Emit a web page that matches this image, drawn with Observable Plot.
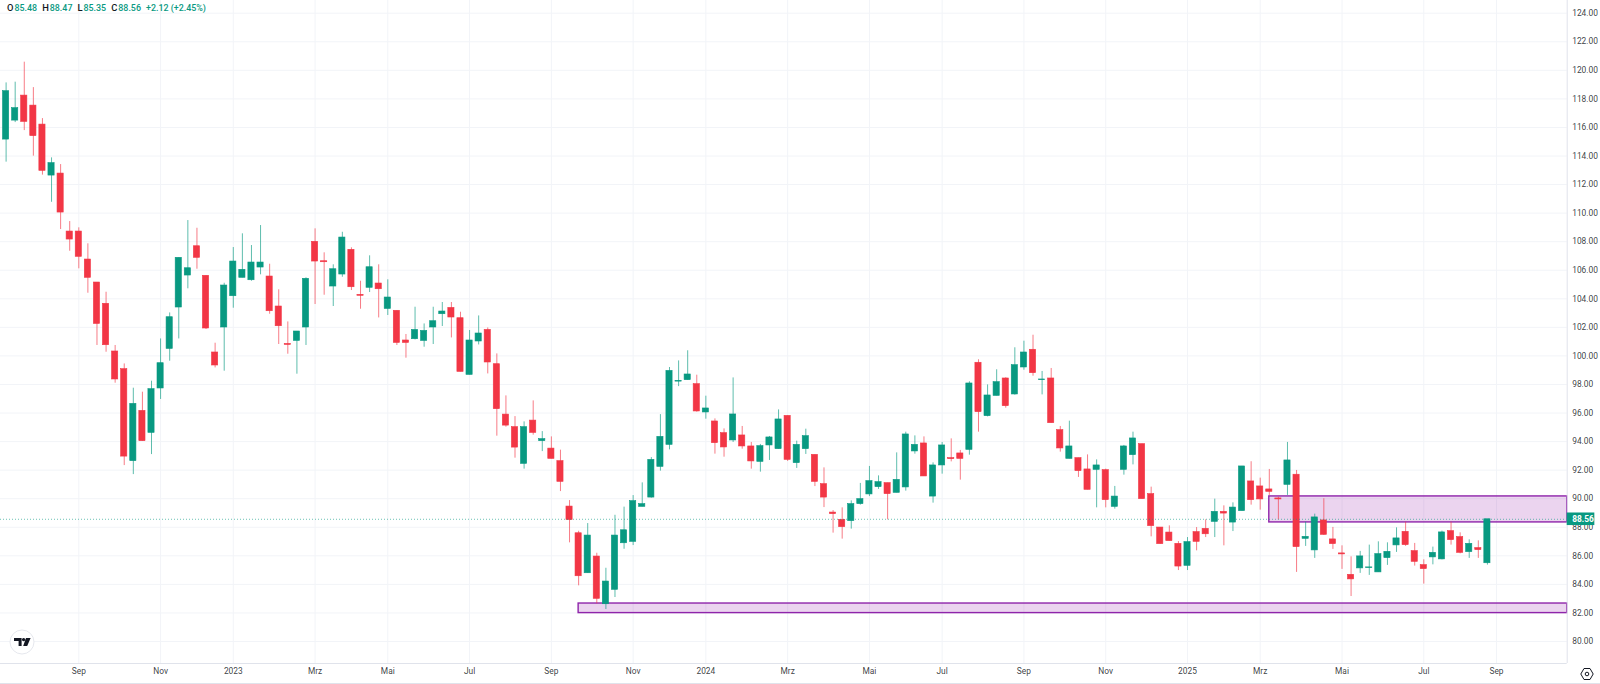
<!DOCTYPE html>
<html><head><meta charset="utf-8">
<script src="https://cdn.jsdelivr.net/npm/d3@7"></script>
<script src="https://cdn.jsdelivr.net/npm/@observablehq/plot@0.6"></script>
<style>
html,body{margin:0;padding:0;background:#fff;overflow:hidden}
#wrap{position:relative;width:1600px;height:684px;font-family:Roboto,sans-serif}
#legend{position:absolute;left:7px;top:2px;font-size:8.9px;line-height:12px;font-weight:500;color:#089981;white-space:pre}
#legend b{font-weight:500;color:#131722;font-size:9.4px;margin-right:1px}
#legend span{margin-right:5px}
#logo{position:absolute;left:9px;top:629px}
#gear{position:absolute;left:1580px;top:667px}
#foot{position:absolute;left:0;top:683px;width:1600px;height:1px;background:#e0e3eb}
svg{display:block}
</style></head><body>
<div id="wrap">
<div id="chart"></div>
<div id="legend"><span><b>O</b>85.48</span><span><b>H</b>88.47</span><span><b>L</b>85.35</span><span><b>C</b>88.56</span><span>+2.12 (+2.45%)</span></div>
<svg id="logo" width="26" height="26" viewBox="0 0 26 26"><circle cx="13" cy="13" r="12" fill="#fff" stroke="#e6e8ee" stroke-width="1"/><path d="M5 9h7.6v8h-3v-4.9H5z M17 9h4.6l-3.4 8h-4z M14.6 9a1.6 1.6 0 1 0 .01 0z" fill="#131722"/></svg>
<svg id="gear" width="14" height="14" viewBox="0 0 14 14" fill="none" stroke="#131722" stroke-width="1"><path d="M4 1.5h6l3.2 5.5-3.2 5.5H4L.8 7z"/><circle cx="7" cy="7" r="1.8"/></svg>
<div id="foot"></div>
</div>
<script>
const open = [
115.15,116.48,118.23,117.53,116.20,112.63,112.77,108.71,108.71,106.75,
105.14,103.65,100.31,99.07,92.63,96.15,94.61,97.72,100.49,103.39,
105.63,107.68,105.61,100.24,101.99,104.18,105.47,105.30,106.19,105.56,
103.46,100.84,101.05,101.99,107.99,106.63,104.86,105.70,107.43,104.28,
104.77,105.07,103.29,103.16,101.08,101.17,101.05,101.99,102.92,103.36,
102.64,98.67,101.01,101.82,99.42,95.89,95.01,92.44,95.47,94.03,
93.51,92.63,89.45,87.58,84.78,85.95,82.61,83.62,86.88,86.98,
89.43,90.08,92.23,93.77,98.20,98.30,98.02,96.04,95.41,94.59,
94.08,94.43,93.66,92.58,93.73,93.47,95.80,92.49,93.47,93.07,
91.02,89.03,88.52,88.43,89.62,90.30,90.81,91.09,90.41,90.79,
93.31,93.87,90.15,92.33,92.84,93.17,93.42,99.52,95.78,97.20,
98.42,97.30,99.19,100.43,98.30,98.42,94.80,92.79,92.84,92.05,
92.02,92.00,89.43,92.02,93.05,93.82,90.32,87.98,87.63,86.84,
85.30,87.66,87.89,88.38,89.08,88.33,89.13,91.21,90.86,90.65,
90.02,90.97,91.68,87.19,86.38,88.48,87.15,86.17,84.67,85.12,
85.14,84.84,85.84,86.73,87.68,86.33,85.35,85.89,85.75,87.73,
87.31,86.26,86.54,85.48];
const close = [
118.54,117.35,116.39,115.39,112.96,113.50,110.04,108.15,106.94,105.47,
102.24,100.75,98.35,92.95,96.64,94.03,97.67,99.49,102.71,106.87,
106.14,106.87,101.92,99.33,104.93,106.61,106.03,106.54,106.54,103.13,
102.08,100.77,101.71,105.40,106.61,106.56,106.07,108.29,104.81,104.21,
106.21,104.67,104.09,100.91,100.91,101.82,101.75,102.43,103.11,102.69,
98.88,101.08,101.57,99.54,96.27,95.12,93.58,95.01,94.61,94.17,
92.79,91.18,88.50,84.57,87.42,82.99,84.20,87.42,87.79,89.83,
89.62,92.72,94.33,98.95,98.25,98.70,96.11,96.32,93.89,93.59,
95.90,93.66,92.61,93.68,94.29,95.55,92.72,93.77,94.38,91.18,
90.08,88.92,88.01,89.62,89.97,91.23,91.16,90.32,91.32,94.50,
93.77,91.56,92.33,93.73,92.77,92.79,98.07,96.06,97.23,98.16,
96.48,99.35,100.24,98.79,98.35,95.29,93.52,93.66,91.93,90.62,
92.33,89.90,90.15,93.66,94.22,89.97,88.08,86.82,87.03,85.25,
86.96,86.98,87.51,89.08,88.96,89.38,92.26,89.90,89.95,90.48,
89.95,92.68,86.61,87.33,88.69,87.47,86.82,86.10,84.35,85.96,
85.19,86.12,86.28,87.22,86.75,85.58,85.07,86.21,87.64,87.10,
86.21,86.84,86.40,88.56];
const high = [
119.12,119.17,120.57,118.79,116.62,113.87,113.40,109.41,108.97,107.85,
105.14,104.46,100.73,99.44,97.74,97.46,98.23,101.19,103.01,106.87,
109.48,108.94,105.61,100.89,105.09,107.59,108.55,107.73,109.13,106.42,
104.63,102.38,101.71,105.47,108.90,107.22,106.38,108.66,107.57,105.23,
107.01,106.38,105.33,103.16,101.50,103.41,102.24,103.41,103.74,103.74,
103.06,101.78,102.80,101.96,100.14,97.20,95.75,95.38,96.85,94.70,
94.33,93.40,89.87,87.72,88.26,86.18,85.13,88.84,89.41,90.22,
91.11,92.88,95.89,99.19,99.65,100.36,98.65,97.18,95.59,94.89,
98.46,95.06,93.94,93.80,94.36,96.22,95.80,94.03,94.87,93.07,
92.16,89.17,89.36,89.85,91.07,92.26,91.60,91.09,93.21,94.66,
94.40,94.33,92.51,93.94,94.19,93.38,98.19,99.73,97.97,99.03,
98.47,100.57,101.03,101.45,98.91,99.12,95.06,95.43,92.84,93.07,
92.72,92.07,90.86,93.73,94.66,93.82,90.81,87.98,88.10,87.00,
87.28,87.98,88.52,89.97,89.50,89.71,92.26,92.59,91.44,92.05,
90.11,93.94,91.98,88.36,88.92,90.00,87.99,86.70,85.93,86.31,
86.75,86.98,86.91,87.96,88.36,86.87,85.72,86.61,87.73,88.36,
87.61,87.12,87.05,88.47];
const low = [
113.57,116.34,115.78,113.99,112.66,110.76,108.85,107.33,106.10,104.39,
100.73,100.26,98.09,92.32,91.69,94.03,93.09,96.95,99.63,101.19,
104.70,106.07,101.85,99.16,98.93,103.34,105.47,105.23,105.68,102.92,
100.80,100.12,98.72,100.73,103.60,104.25,103.46,105.51,104.58,103.27,
104.44,102.66,102.83,100.73,99.84,101.12,100.61,100.80,102.06,101.26,
98.88,98.67,100.77,98.74,94.38,95.01,92.84,92.07,94.45,93.30,
92.79,90.50,86.91,83.90,84.78,82.64,82.24,83.08,86.46,86.72,
89.43,90.04,91.93,93.42,97.85,98.30,96.06,95.57,93.12,92.91,
93.94,93.47,92.07,91.86,92.68,93.47,92.61,92.12,93.10,90.85,
89.38,87.59,87.17,87.87,89.55,90.15,90.65,88.52,90.41,90.53,
93.12,91.56,89.69,91.72,92.58,91.30,93.05,94.66,95.73,97.20,
96.34,97.25,99.00,98.58,97.27,95.29,93.26,92.79,91.49,90.62,
89.36,89.36,89.27,91.65,92.37,89.97,87.33,86.82,87.03,84.97,
84.97,86.35,87.28,87.28,86.70,87.70,89.13,89.55,89.20,90.23,
88.52,90.23,84.84,86.66,85.82,87.43,86.45,85.05,83.15,84.77,
84.63,84.84,85.33,86.24,86.66,85.28,84.02,85.37,85.72,86.75,
86.14,85.82,85.82,85.35];

const priceTicks = d3.range(80, 126, 2);
const weekTicks = [8,17,25,34,42,51,60,69,77,86,95,103,112,121,130,138,147,156,164];
const weekLabels = ["Sep","Nov","2023","Mrz","Mai","Jul","Sep","Nov","2024","Mrz","Mai","Jul","Sep","Nov","2025","Mrz","Mai","Jul","Sep"];
const zoneStart = [63, 139];
const zoneTop = [82.66, 90.16];
const zoneBottom = [81.99, 88.34];
const lastPrice = [88.56];

const UP = "#089981", DOWN = "#f23645", PURPLE = "#9c27b0", ZONE_LINE = "#8e24aa", GRID = "#f2f4f8", AXIS = "#e0e3eb", INK = "#131722";
const xMin = -0.616, xMax = 171.78, yMin = 78.46, yMax = 124.89;

const candles = open.map((o, i) => ({i, o, c: close[i], h: high[i], l: low[i], color: close[i] >= o ? UP : DOWN}));
const zones = zoneStart.map((s, k) => ({s, top: zoneTop[k], bottom: zoneBottom[k]}));
const halfBody = 0.34;

const chart = Plot.plot({
  width: 1600, height: 684,
  marginLeft: 0, marginRight: 33.3, marginTop: 0, marginBottom: 21,
  style: {fontFamily: "Roboto, sans-serif", fontSize: "8.4px", color: INK, background: "#fff", overflow: "visible"},
  x: {type: "linear", domain: [xMin, xMax]},
  y: {type: "linear", domain: [yMin, yMax]},
  marks: [
    Plot.ruleX(weekTicks, {stroke: GRID, strokeWidth: 1}),
    Plot.ruleY(priceTicks, {stroke: GRID, strokeWidth: 1}),
    Plot.rect(zones, {x1: "s", x2: () => xMax, y1: "bottom", y2: "top", fill: PURPLE, fillOpacity: 0.2, stroke: ZONE_LINE, strokeWidth: 1.4, strokeOpacity: 1}),
    Plot.ruleX(candles, {x: "i", y1: "l", y2: "h", stroke: "color", strokeWidth: 1, strokeOpacity: 0.65}),
    Plot.rect(candles, {x1: d => d.i - halfBody, x2: d => d.i + halfBody, y1: "o", y2: "c", fill: "color", stroke: "color", strokeWidth: 0.6}),
    Plot.ruleY(lastPrice, {x1: xMin, x2: xMax, stroke: UP, strokeWidth: 1, strokeOpacity: 0.6, strokeDasharray: "1 2"}),
    Plot.ruleX([xMax], {stroke: AXIS, strokeWidth: 1}),
    Plot.ruleY([yMin], {stroke: AXIS, strokeWidth: 1}),
    Plot.axisY(priceTicks, {anchor: "right", tickSize: 0, tickPadding: 5, tickFormat: d => d.toFixed(2), label: null, fill: INK, fillOpacity: 0.85}),
    Plot.axisX(weekTicks, {anchor: "bottom", tickSize: 0, tickPadding: 5, tickFormat: d => weekLabels[weekTicks.indexOf(d)], label: null, fill: INK, fillOpacity: 0.85}),
    Plot.rect(lastPrice, {x1: () => xMax, x2: () => xMax + 3.04, y1: d => d - 0.44, y2: d => d + 0.44, fill: UP}),
    Plot.text(lastPrice, {x: () => xMax + 0.55, y: d => d, text: d => d.toFixed(2), textAnchor: "start", fill: "#fff", fontWeight: 700})
  ]
});
document.getElementById("chart").appendChild(chart);
</script>
</body></html>
